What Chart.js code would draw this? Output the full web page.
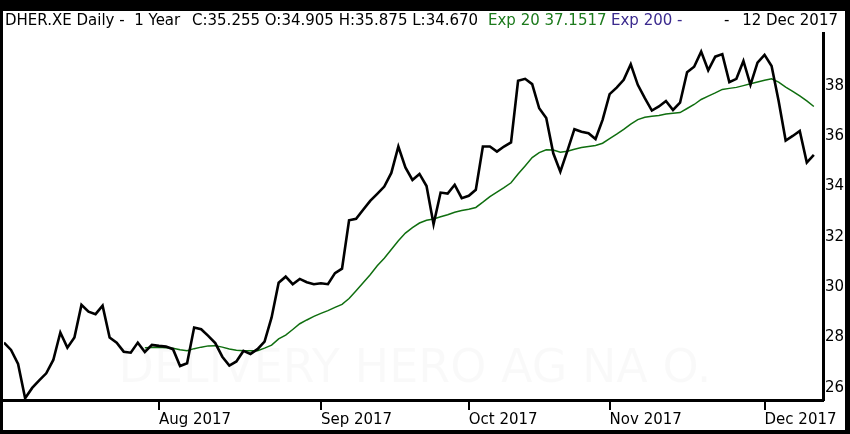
<!DOCTYPE html>
<html>
<head>
<meta charset="utf-8">
<script src="https://cdn.jsdelivr.net/npm/chart.js@4.4.1/dist/chart.umd.min.js"></script>
<style>
  html, body { margin: 0; padding: 0; background: #000; }
  #wrap { position: relative; width: 850px; height: 434px; overflow: hidden; }
  #header span { position: absolute; top: 11px; font: 15px "DejaVu Sans", sans-serif; white-space: pre; line-height: 18px; color: #000; }
</style>
</head>
<body>
<div id="wrap">
  <canvas id="priceChart" width="850" height="434"></canvas>
  <div id="header">
    <span style="left:5px">DHER.XE Daily -  1 Year</span>
    <span style="left:192px">C:35.255 O:34.905 H:35.875 L:34.670</span>
    <span style="left:488px;color:#1c7a1c">Exp 20 37.1517</span>
    <span style="left:611px;color:#3b2a8e">Exp 200 -</span>
    <span style="left:724px">-</span>
    <span style="right:12px">12 Dec 2017</span>
  </div>
</div>
<script>
// trading days since the IPO (30 Jun 2017) up to 12 Dec 2017
const tradingDays = [
  '2017-06-30',
  '2017-07-03','2017-07-04','2017-07-05','2017-07-06','2017-07-07','2017-07-10','2017-07-11','2017-07-12','2017-07-13','2017-07-14',
  '2017-07-17','2017-07-18','2017-07-19','2017-07-20','2017-07-21','2017-07-24','2017-07-25','2017-07-26','2017-07-27','2017-07-28','2017-07-31',
  '2017-08-01','2017-08-02','2017-08-03','2017-08-04','2017-08-07','2017-08-08','2017-08-09','2017-08-10','2017-08-11','2017-08-14','2017-08-15',
  '2017-08-16','2017-08-17','2017-08-18','2017-08-21','2017-08-22','2017-08-23','2017-08-24','2017-08-25','2017-08-28','2017-08-29','2017-08-30','2017-08-31',
  '2017-09-01','2017-09-04','2017-09-05','2017-09-06','2017-09-07','2017-09-08','2017-09-11','2017-09-12','2017-09-13','2017-09-14','2017-09-15',
  '2017-09-18','2017-09-19','2017-09-20','2017-09-21','2017-09-22','2017-09-25','2017-09-26','2017-09-27','2017-09-28','2017-09-29',
  '2017-10-02','2017-10-04','2017-10-05','2017-10-06','2017-10-09','2017-10-10','2017-10-11','2017-10-12','2017-10-13','2017-10-16',
  '2017-10-17','2017-10-18','2017-10-19','2017-10-20','2017-10-23','2017-10-24','2017-10-25','2017-10-26','2017-10-27','2017-10-30',
  '2017-11-01','2017-11-02','2017-11-03','2017-11-06','2017-11-07','2017-11-08','2017-11-09','2017-11-10','2017-11-13','2017-11-14','2017-11-15',
  '2017-11-16','2017-11-17','2017-11-20','2017-11-21','2017-11-22','2017-11-23','2017-11-24','2017-11-27','2017-11-28','2017-11-29','2017-11-30',
  '2017-12-01','2017-12-04','2017-12-05','2017-12-06','2017-12-07','2017-12-08','2017-12-11','2017-12-12'
];

const closes = [
  27.80, 27.51, 26.95, 25.59, 26.00, 26.30, 26.58, 27.11, 28.20, 27.60,
  28.00, 29.30, 29.03, 28.93, 29.27, 28.00, 27.80, 27.44, 27.40, 27.80,
  27.43, 27.71, 27.67, 27.64, 27.54, 26.87, 26.98, 28.40, 28.33, 28.07,
  27.78, 27.24, 26.89, 27.05, 27.47, 27.35, 27.54, 27.84, 28.80, 30.18,
  30.42, 30.12, 30.33, 30.20, 30.12, 30.16, 30.12, 30.56, 30.74, 32.66,
  32.72, 33.08, 33.43, 33.71, 34.00, 34.54, 35.59, 34.76, 34.26, 34.50,
  34.02, 32.50, 33.76, 33.72, 34.07, 33.54, 33.63, 33.87, 35.59, 35.59,
  35.39, 35.59, 35.75, 38.20, 38.28, 38.07, 37.11, 36.72, 35.32, 34.59,
  35.42, 36.28, 36.18, 36.12, 35.89, 36.65, 37.67, 37.93, 38.24, 38.86,
  38.04, 37.51, 37.02, 37.18, 37.40, 37.04, 37.33, 38.54, 38.76, 39.36,
  38.62, 39.16, 39.26, 38.15, 38.28, 38.99, 38.04, 38.92, 39.23, 38.79,
  37.40, 35.83, 36.01, 36.21, 34.95, 35.255
];

// Exp 20 line, first 20 days have no value
const ema20 = [
  null, null, null, null, null, null, null, null, null, null,
  null, null, null, null, null, null, null, null, null, null,
  27.60, 27.61, 27.62, 27.60, 27.58, 27.52, 27.48, 27.56, 27.62, 27.67,
  27.68, 27.62, 27.55, 27.50, 27.48, 27.48, 27.48, 27.58, 27.70, 27.95,
  28.10, 28.32, 28.55, 28.70, 28.84, 28.96, 29.07, 29.20, 29.32, 29.55,
  29.86, 30.18, 30.50, 30.85, 31.15, 31.50, 31.85, 32.15, 32.37, 32.55,
  32.66, 32.71, 32.80, 32.88, 32.98, 33.05, 33.10, 33.17, 33.38, 33.60,
  33.78, 33.96, 34.15, 34.50, 34.82, 35.15, 35.35, 35.46, 35.45, 35.36,
  35.40, 35.48, 35.55, 35.59, 35.63, 35.72, 35.90, 36.08, 36.27, 36.48,
  36.66, 36.75, 36.79, 36.82, 36.88, 36.91, 36.94, 37.10, 37.26, 37.46,
  37.59, 37.72, 37.86, 37.90, 37.94, 38.01, 38.08, 38.15, 38.22, 38.28,
  38.15, 37.95, 37.78, 37.60, 37.40, 37.18
];

const monthTickDates = ['2017-08-01', '2017-09-01', '2017-10-02', '2017-11-01', '2017-12-01'];
const monthLabels = ['Aug 2017', 'Sep 2017', 'Oct 2017', 'Nov 2017', 'Dec 2017'];
const priceTicks = [26, 28, 30, 32, 34, 36, 38];

const monthTickIndex = monthTickDates.map(d => tradingDays.indexOf(d));
const axisFont = { family: '"DejaVu Sans", sans-serif', size: 15 };

// black frame, white panel and faint watermark
const framePlugin = {
    id: 'frame',
    beforeDraw(chart) {
        const ctx = chart.ctx;
        ctx.save();
        ctx.fillStyle = '#000';
        ctx.fillRect(0, 0, chart.width, chart.height);
        ctx.fillStyle = '#fff';
        ctx.fillRect(3, 11, 842, 419);
        ctx.restore();
    },
    beforeDatasetsDraw(chart) {
        const ctx = chart.ctx;
        const a = chart.chartArea;
        ctx.save();
        ctx.font = '46px "DejaVu Sans", sans-serif';
        ctx.fillStyle = 'rgba(0,0,0,0.022)';
        ctx.textAlign = 'center';
        ctx.textBaseline = 'middle';
        ctx.fillText('DELIVERY HERO AG NA O.', 415, 370);
        ctx.restore();
    }
};

const chartConfig = {
    type: 'line',
    data: {
        datasets: [
            {
                label: 'DHER.XE',
                data: closes.map((v, i) => ({ x: i, y: v })),
                borderColor: '#000',
                borderWidth: 2.6,
                pointRadius: 0,
                tension: 0,
                order: 1
            },
            {
                label: 'Exp 20',
                data: ema20.map((v, i) => ({ x: i, y: v })),
                borderColor: '#0f6e0f',
                borderWidth: 1.5,
                pointRadius: 0,
                tension: 0,
                order: 2
            }
        ]
    },
    options: {
        responsive: false,
        animation: false,
        layout: { padding: { left: 4, top: 33, right: 0, bottom: 0 } },
        plugins: {
            legend: { display: false },
            tooltip: { enabled: false }
        },
        scales: {
            x: {
                type: 'linear',
                min: 0,
                max: 116.3,
                grid: { display: true, drawOnChartArea: false, drawTicks: true, tickLength: 10, lineWidth: 2, color: '#000' },
                border: { display: true, color: '#000', width: 3 },
                afterBuildTicks: axis => { axis.ticks = monthTickIndex.map(i => ({ value: i })); },
                afterFit: axis => { axis.height = 34; axis.paddingLeft = 0; axis.paddingRight = 0; },
                ticks: {
                    autoSkip: false,
                    maxRotation: 0,
                    align: 'start',
                    padding: 1,
                    color: '#000',
                    font: axisFont,
                    callback: (value, index) => monthLabels[index]
                }
            },
            y: {
                position: 'right',
                min: 25.52,
                max: 40.1,
                grid: { display: false, drawTicks: false, tickLength: 0 },
                border: { display: true, color: '#000', width: 3 },
                afterBuildTicks: axis => { axis.ticks = priceTicks.map(v => ({ value: v })); },
                afterFit: axis => { axis.width = 27; },
                ticks: {
                    padding: 2,
                    color: '#000',
                    font: axisFont
                }
            }
        }
    },
    plugins: [framePlugin]
};

let chartID = document.getElementById('priceChart');
let chart = new Chart(chartID, chartConfig);
</script>
</body>
</html>
